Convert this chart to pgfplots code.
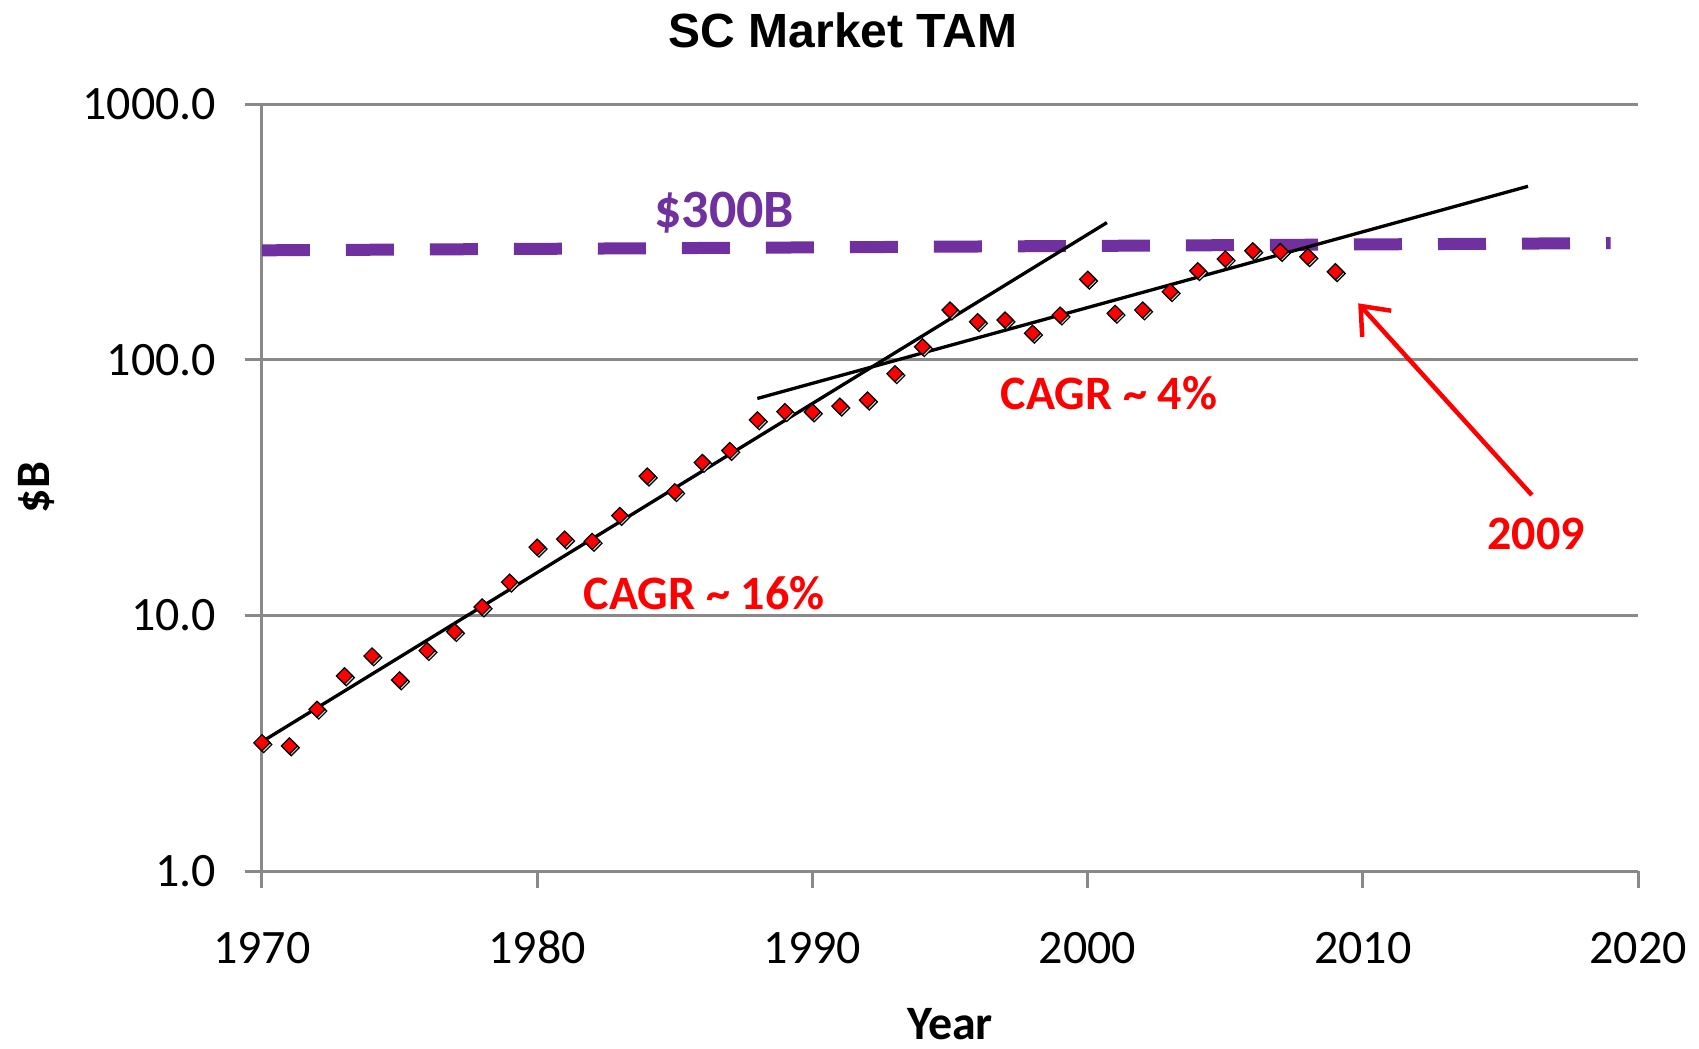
\documentclass[border=0pt]{standalone}
\usepackage{pgfplots}
\pgfplotsset{compat=1.18}
\usepackage{fontspec}
\setmainfont{Carlito}
\newfontfamily\titlefont{Liberation Sans}
\usetikzlibrary{arrows.meta}
\definecolor{gridgray}{HTML}{898989}
\definecolor{mpurple}{HTML}{7030A0}
\definecolor{mred}{HTML}{FF0000}
\pgfplotstableread{
year value
1970 3.18
1971 3.09
1972 4.30
1973 5.81
1974 6.95
1975 5.60
1976 7.29
1977 8.65
1978 10.8
1979 13.5
1980 18.5
1981 19.9
1982 19.5
1983 24.6
1984 35.1
1985 30.5
1986 39.7
1987 44.2
1988 58.2
1989 62.7
1990 62.5
1991 65.9
1992 69.6
1993 88.2
1994 112.5
1995 156.6
1996 141
1997 143
1998 127
1999 149.6
2000 206.5
2001 152
2002 156.6
2003 184.6
2004 223
2005 248
2006 267
2007 265
2008 253
2009 221
}\tam
\begin{document}
\begin{tikzpicture}
\path[use as bounding box] (-87.3pt,-59pt) rectangle (479pt,290.4pt);
\begin{axis}[
  name=ax,
  scale only axis,
  width=458.7pt, height=255.7pt,
  ymode=log,
  xmin=1970, xmax=2020,
  ymin=1, ymax=1000,
  clip=false,
  axis x line=bottom, axis y line=left,
  axis line style={draw=gridgray, line width=1pt, -},
  xtick={1970,1980,1990,2000,2010,2020},
  xticklabels={1970,1980,1990,2000,2010,2020},
  ytick={1,10,100,1000},
  yticklabels={1.0,10.0,100.0,1000.0},
  yminorticks=false, xminorticks=false,
  tick align=outside,
  major tick length=5.5pt,
  tick style={draw=gridgray, line width=1pt},
  ymajorgrids,
  grid style={draw=gridgray, line width=1pt},
  tick label style={font=\fontsize{16}{19}\selectfont, inner sep=0pt},
  xticklabel style={anchor=base, yshift=-25.2pt},
  yticklabel style={anchor=east, xshift=-9.5pt},
  title={\titlefont\bfseries SC Market TAM},
  title style={font=\fontsize{16}{19}\selectfont, anchor=center, at={([yshift=18.7pt]axis description cs:0.4222,1)}},
  xlabel={\bfseries Year},
  xlabel style={font=\fontsize{16}{19}\selectfont, anchor=center, at={([yshift=-51pt]axis description cs:0.5,0)}},
  ylabel={\bfseries \$B},
  ylabel style={font=\fontsize{16}{19}\selectfont, anchor=center, at={([xshift=-75pt]axis description cs:0,0.5)}},
]
% $300B dashed line
\addplot[mpurple, line width=4pt, dash pattern=on 16pt off 12pt] coordinates {(1970,268) (2019,286)};
% data shadow
\addplot[only marks, mark=square*, mark size=1.9pt,
  mark options={xshift=0.6pt, yshift=-0.6pt, rotate=45, fill=black!18, draw=none}] table[x=year, y=value] {\tam};
% data
\addplot[only marks, mark=square*, mark size=1.9pt,
  mark options={rotate=45, fill=mred, draw=none}] table[x=year, y=value] {\tam};
% trend lines
\addplot[black, line width=1.1pt] coordinates {(1970,3.21) (2000.7,344)};
\addplot[black, line width=1.1pt] coordinates {(1988.0,70.6) (2016.0,477)};
% arrow
\draw[mred, line width=1.5pt, -{Straight Barb[length=8pt, width=13pt, line width=1.5pt]}] (axis cs:2016.14,29.6) -- (axis cs:2009.83,166.3);
% annotations
\node[text=mpurple, font=\fontsize{18}{21}\selectfont\bfseries] at (axis cs:1986.8,375) {\$300B};
\node[text=mred, font=\fontsize{16}{19}\selectfont\bfseries] at (axis cs:1986.07,12.2) {CAGR \char`~\ 16\%};
\node[text=mred, font=\fontsize{16}{19}\selectfont\bfseries] at (axis cs:2000.78,74.2) {CAGR \char`~\ 4\%};
\node[text=mred, font=\fontsize{16}{19}\selectfont\bfseries] at (axis cs:2016.3,20.8) {2009};
\end{axis}
\end{tikzpicture}
\end{document}
